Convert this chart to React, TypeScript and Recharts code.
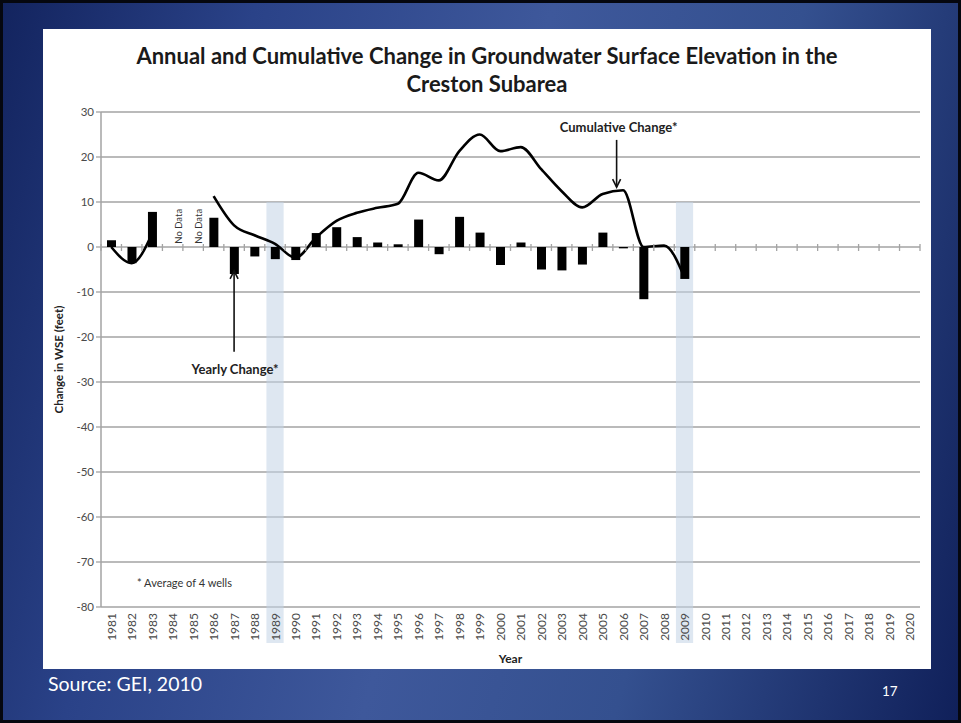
import React from 'react'
import {
  ComposedChart,
  Bar,
  Line,
  XAxis,
  YAxis,
  CartesianGrid,
  ReferenceArea,
  ReferenceLine,
  ReferenceDot,
} from 'recharts'

// Water years on the category axis
const years = [
  '1981', '1982', '1983', '1984', '1985', '1986', '1987', '1988', '1989', '1990',
  '1991', '1992', '1993', '1994', '1995', '1996', '1997', '1998', '1999', '2000',
  '2001', '2002', '2003', '2004', '2005', '2006', '2007', '2008', '2009', '2010',
  '2011', '2012', '2013', '2014', '2015', '2016', '2017', '2018', '2019', '2020',
]

// Yearly change in WSE (feet), average of 4 wells
const yearlyChange: (number | null)[] = [
  1.5, -3.6, 7.8, null, null, 6.5, -6.0, -2.1, -2.7, -2.9,
  3.1, 4.4, 2.2, 1.0, 0.6, 6.1, -1.6, 6.7, 3.2, -4.0,
  1.0, -5.0, -5.2, -3.9, 3.2, -0.3, -11.6, null, -7.1, null,
  null, null, null, null, null, null, null, null, null, null,
]

// Cumulative change in WSE (feet)
const cumulativeChange: (number | null)[] = [
  0, -3.6, 3.0, null, null, 11.3, 4.8, 2.6, 0.7, -2.4,
  2.1, 5.8, 7.6, 8.7, 9.6, 16.5, 14.8, 21.3, 25.0, 21.3,
  22.2, 17.3, 12.4, 8.8, 11.8, 12.6, 0, 0.3, -6.8, null,
  null, null, null, null, null, null, null, null, null, null,
]

const noDataYears = ['1984', '1985']
const shadedYears = ['1989', '2009']
const yTicks = [30, 20, 10, 0, -10, -20, -30, -40, -50, -60, -70, -80]

const data = years.map((year, i) => ({
  year,
  yearly: yearlyChange[i],
  cumulative: cumulativeChange[i],
}))

const CHART_W = 887
const CHART_H = 640
const MARGIN = { top: 83, right: 10, bottom: 6, left: 18 }
const Y_AXIS_W = 40
const X_AXIS_H = 56
const Y_MIN = -80
const Y_MAX = 30
const PLOT_W = CHART_W - MARGIN.left - MARGIN.right - Y_AXIS_W
const PLOT_H = CHART_H - MARGIN.top - MARGIN.bottom - X_AXIS_H
const STEP = PLOT_W / years.length
const ZERO_Y = MARGIN.top + (PLOT_H * Y_MAX) / (Y_MAX - Y_MIN)

const GRID = '#a3a3a3'
const FONT = 'Lato, "Open Sans", sans-serif'

// Year labels at the bottom, plus the category tick marks that sit on the zero line
const YearTick = (props: any) => {
  const { x, y, payload, index } = props
  const half = STEP / 2
  return (
    <g>
      <line x1={x - half} x2={x - half} y1={ZERO_Y - 3} y2={ZERO_Y + 4} stroke={GRID} strokeWidth={1.3} />
      {index === years.length - 1 && (
        <line x1={x + half} x2={x + half} y1={ZERO_Y - 3} y2={ZERO_Y + 4} stroke={GRID} strokeWidth={1.3} />
      )}
      <text
        transform={`translate(${x + 4.5},${y + 4}) rotate(-90)`}
        textAnchor="end"
        fontSize={12}
        fontFamily={FONT}
        fill="#4a4a4a"
      >
        {payload.value}
      </text>
    </g>
  )
}

// Vertical arrow with a caption; the head is drawn at the second segment point
const arrowWithCaption = (caption: string, captionDy: number, captionDx: number, shiftX: number) => (props: any) => {
  const { x1, y1, x2, y2 } = props
  const ax = x1 + shiftX
  const dir = y2 > y1 ? 1 : -1
  const textY = dir > 0 ? Math.min(y1, y2) + captionDy : Math.max(y1, y2) + captionDy
  return (
    <g>
      <line x1={ax} x2={x2 + shiftX} y1={y1} y2={y2} stroke="#111" strokeWidth={1.6} />
      <path
        d={`M ${ax - 4} ${y2 - dir * 8} L ${ax} ${y2} L ${ax + 4} ${y2 - dir * 8}`}
        fill="none"
        stroke="#111"
        strokeWidth={1.6}
      />
      <text
        x={ax + captionDx}
        y={textY}
        textAnchor="middle"
        fontSize={13}
        fontWeight="bold"
        fontFamily={FONT}
        fill="#222"
      >
        {caption}
      </text>
    </g>
  )
}

const noDataLabel = (props: any) => (
  <text
    transform={`translate(${props.cx + 9},${props.cy}) rotate(-90)`}
    textAnchor="middle"
    fontSize={9.5}
    fontFamily={FONT}
    fill="#333"
  >
    No Data
  </text>
)

const bandShape = (props: any) => {
  const { x, y, width, height } = props
  const w = width * 0.84
  return <rect x={x + (width - w) / 2} y={y} width={w} height={height} fill="#c3d3e5" fillOpacity={0.55} />
}

export default function App() {
  return (
    <div
      style={{
        position: 'fixed',
        left: 0,
        top: 0,
        width: 961,
        height: 723,
        boxSizing: 'border-box',
        border: '3px solid #05070f',
        background:
          'linear-gradient(105deg, #13245f 0%, #2a4288 22%, #3e589b 48%, #34508f 70%, #10205a 100%)',
        fontFamily: FONT,
        overflow: 'hidden',
      }}
    >
      <div
        style={{
          position: 'absolute',
          left: 40,
          top: 26,
          width: CHART_W + 1,
          height: CHART_H,
          background: '#fff',
        }}
      >
        <div
          style={{
            position: 'absolute',
            left: 0,
            top: 13,
            width: '100%',
            textAlign: 'center',
            fontSize: 22,
            fontWeight: 'bold',
            lineHeight: '28px',
            color: '#1a1a1a',
          }}
        >
          Annual and Cumulative Change in Groundwater Surface Elevation in the
          <br />
          Creston Subarea
        </div>
        <ComposedChart width={CHART_W} height={CHART_H} data={data} margin={MARGIN}>
          <CartesianGrid horizontal vertical={false} stroke={GRID} strokeWidth={1.5} />
          <XAxis
            dataKey="year"
            interval={0}
            height={X_AXIS_H}
            axisLine={false}
            tickLine={false}
            tickSize={0}
            tick={<YearTick />}
            label={{
              value: 'Year',
              position: 'insideBottom',
              offset: 0,
              fontSize: 12,
              fontWeight: 'bold',
              fontFamily: FONT,
              fill: '#222',
            }}
          />
          <YAxis
            domain={[Y_MIN, Y_MAX]}
            ticks={yTicks}
            interval={0}
            width={Y_AXIS_W}
            axisLine={{ stroke: GRID, strokeWidth: 1.5 }}
            tickLine={{ stroke: GRID, strokeWidth: 1.3 }}
            tickSize={5}
            tick={{ fill: '#4a4a4a', fontSize: 11.5, fontFamily: FONT }}
            label={{
              value: 'Change in WSE (feet)',
              angle: -90,
              position: 'insideLeft',
              offset: -2,
              style: { textAnchor: 'middle' },
              fontSize: 11.5,
              fontWeight: 'bold',
              fontFamily: FONT,
              fill: '#222',
            }}
          />
          {shadedYears.map((yr) => (
            <ReferenceArea
              key={yr}
              x1={yr}
              x2={yr}
              y1={10}
              y2={-88}
              ifOverflow="visible"
              shape={bandShape}
            />
          ))}
          <Bar dataKey="yearly" fill="#000" barSize={9} isAnimationActive={false} />
          <Line
            dataKey="cumulative"
            type="monotone"
            stroke="#000"
            strokeWidth={2.6}
            dot={false}
            activeDot={false}
            connectNulls={false}
            isAnimationActive={false}
          />
          {noDataYears.map((yr) => (
            <ReferenceDot key={yr} x={yr} y={4.6} r={0} shape={noDataLabel} />
          ))}
          <ReferenceLine
            segment={[
              { x: '2006', y: 23.8 },
              { x: '2006', y: 13.3 },
            ]}
            shape={arrowWithCaption('Cumulative Change*', -8, 2, -6.5)}
          />
          <ReferenceLine
            segment={[
              { x: '1987', y: -23.3 },
              { x: '1987', y: -5.3 },
            ]}
            shape={arrowWithCaption('Yearly Change*', 22, 1, 0)}
          />
        </ComposedChart>
        <div style={{ position: 'absolute', left: 94, top: 547, fontSize: 11, color: '#333' }}>
          * Average of 4 wells
        </div>
      </div>
      <div style={{ position: 'absolute', left: 45, top: 669, fontSize: 19.5, color: '#fff' }}>
        Source: GEI, 2010
      </div>
      <div style={{ position: 'absolute', left: 879, top: 680, fontSize: 13.5, color: '#fff' }}>17</div>
    </div>
  )
}
